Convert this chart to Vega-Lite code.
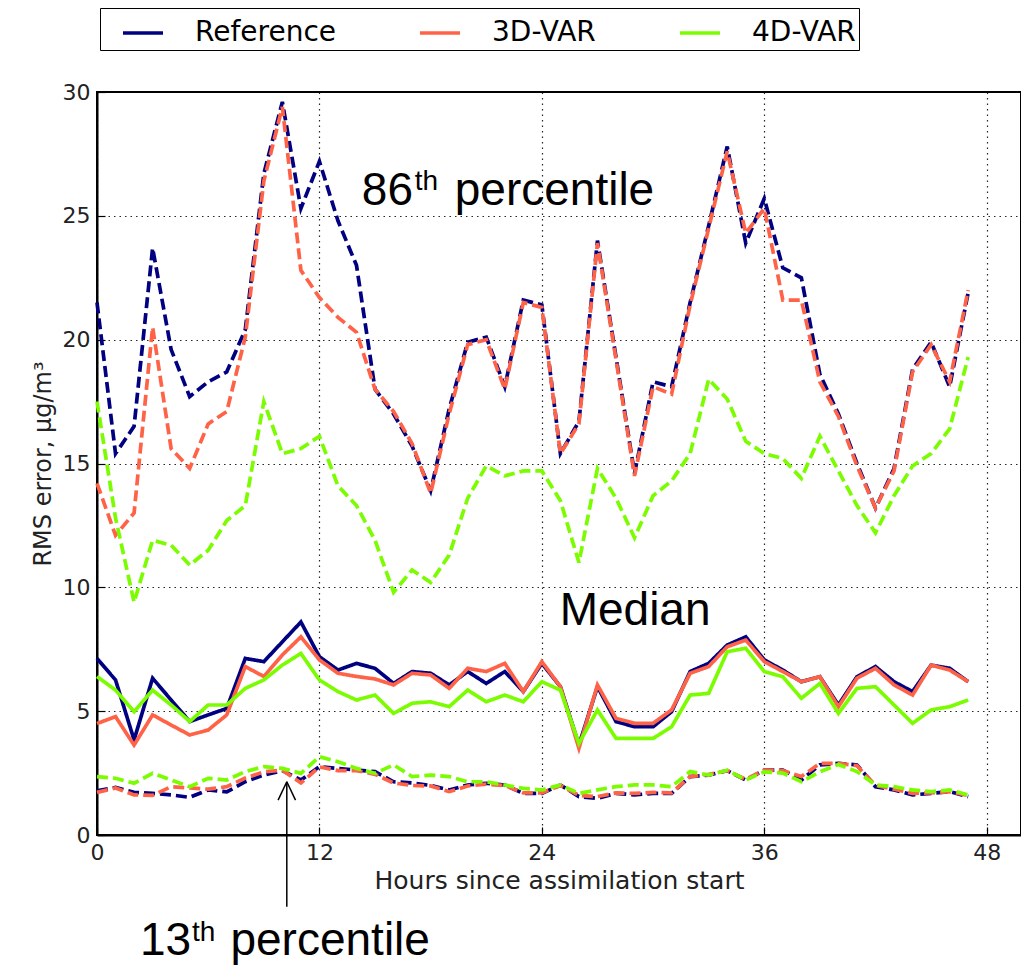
{
"$schema":"https://vega.github.io/schema/vega-lite/v6.json",
"width":924,"height":743,
"autosize":{"type":"none"},
"padding":{"left":97,"top":92,"right":0,"bottom":135},
"background":"white",
"config":{"view":{"stroke":"black","strokeWidth":2}},
"datasets":{
"lines":[
{"h":0,"s":"Reference","k":"86th","v":21.5},{"h":1,"s":"Reference","k":"86th","v":15.4},{"h":2,"s":"Reference","k":"86th","v":16.5},{"h":3,"s":"Reference","k":"86th","v":23.7},{"h":4,"s":"Reference","k":"86th","v":19.6},{"h":5,"s":"Reference","k":"86th","v":17.7},{"h":6,"s":"Reference","k":"86th","v":18.3},{"h":7,"s":"Reference","k":"86th","v":18.7},{"h":8,"s":"Reference","k":"86th","v":20.4},{"h":9,"s":"Reference","k":"86th","v":26.7},
{"h":10,"s":"Reference","k":"86th","v":29.6},{"h":11,"s":"Reference","k":"86th","v":25.3},{"h":12,"s":"Reference","k":"86th","v":27.2},{"h":13,"s":"Reference","k":"86th","v":24.8},{"h":14,"s":"Reference","k":"86th","v":23.0},{"h":15,"s":"Reference","k":"86th","v":18.0},{"h":16,"s":"Reference","k":"86th","v":17.0},{"h":17,"s":"Reference","k":"86th","v":15.7},{"h":18,"s":"Reference","k":"86th","v":13.9},{"h":19,"s":"Reference","k":"86th","v":17.2},
{"h":20,"s":"Reference","k":"86th","v":19.9},{"h":21,"s":"Reference","k":"86th","v":20.1},{"h":22,"s":"Reference","k":"86th","v":18.1},{"h":23,"s":"Reference","k":"86th","v":21.6},{"h":24,"s":"Reference","k":"86th","v":21.4},{"h":25,"s":"Reference","k":"86th","v":15.4},{"h":26,"s":"Reference","k":"86th","v":16.7},{"h":27,"s":"Reference","k":"86th","v":24.0},{"h":28,"s":"Reference","k":"86th","v":19.3},{"h":29,"s":"Reference","k":"86th","v":14.6},
{"h":30,"s":"Reference","k":"86th","v":18.3},{"h":31,"s":"Reference","k":"86th","v":18.1},{"h":32,"s":"Reference","k":"86th","v":21.5},{"h":33,"s":"Reference","k":"86th","v":24.6},{"h":34,"s":"Reference","k":"86th","v":27.8},{"h":35,"s":"Reference","k":"86th","v":23.9},{"h":36,"s":"Reference","k":"86th","v":25.7},{"h":37,"s":"Reference","k":"86th","v":22.9},{"h":38,"s":"Reference","k":"86th","v":22.5},{"h":39,"s":"Reference","k":"86th","v":18.6},
{"h":40,"s":"Reference","k":"86th","v":17.0},{"h":41,"s":"Reference","k":"86th","v":15.0},{"h":42,"s":"Reference","k":"86th","v":13.2},{"h":43,"s":"Reference","k":"86th","v":14.8},{"h":44,"s":"Reference","k":"86th","v":18.8},{"h":45,"s":"Reference","k":"86th","v":19.9},{"h":46,"s":"Reference","k":"86th","v":18.1},{"h":47,"s":"Reference","k":"86th","v":21.9},

{"h":0,"s":"3D-VAR","k":"86th","v":14.2},{"h":1,"s":"3D-VAR","k":"86th","v":12.1},{"h":2,"s":"3D-VAR","k":"86th","v":13.0},{"h":3,"s":"3D-VAR","k":"86th","v":20.5},{"h":4,"s":"3D-VAR","k":"86th","v":15.6},{"h":5,"s":"3D-VAR","k":"86th","v":14.8},{"h":6,"s":"3D-VAR","k":"86th","v":16.6},{"h":7,"s":"3D-VAR","k":"86th","v":17.1},{"h":8,"s":"3D-VAR","k":"86th","v":20.1},{"h":9,"s":"3D-VAR","k":"86th","v":26.4},
{"h":10,"s":"3D-VAR","k":"86th","v":29.4},{"h":11,"s":"3D-VAR","k":"86th","v":22.8},{"h":12,"s":"3D-VAR","k":"86th","v":21.7},{"h":13,"s":"3D-VAR","k":"86th","v":20.9},{"h":14,"s":"3D-VAR","k":"86th","v":20.3},{"h":15,"s":"3D-VAR","k":"86th","v":18.0},{"h":16,"s":"3D-VAR","k":"86th","v":17.1},{"h":17,"s":"3D-VAR","k":"86th","v":15.8},{"h":18,"s":"3D-VAR","k":"86th","v":13.8},{"h":19,"s":"3D-VAR","k":"86th","v":17.0},
{"h":20,"s":"3D-VAR","k":"86th","v":19.8},{"h":21,"s":"3D-VAR","k":"86th","v":20.0},{"h":22,"s":"3D-VAR","k":"86th","v":18.0},{"h":23,"s":"3D-VAR","k":"86th","v":21.5},{"h":24,"s":"3D-VAR","k":"86th","v":21.3},{"h":25,"s":"3D-VAR","k":"86th","v":15.4},{"h":26,"s":"3D-VAR","k":"86th","v":16.6},{"h":27,"s":"3D-VAR","k":"86th","v":23.9},{"h":28,"s":"3D-VAR","k":"86th","v":19.2},{"h":29,"s":"3D-VAR","k":"86th","v":14.5},
{"h":30,"s":"3D-VAR","k":"86th","v":18.1},{"h":31,"s":"3D-VAR","k":"86th","v":17.8},{"h":32,"s":"3D-VAR","k":"86th","v":21.4},{"h":33,"s":"3D-VAR","k":"86th","v":24.5},{"h":34,"s":"3D-VAR","k":"86th","v":27.6},{"h":35,"s":"3D-VAR","k":"86th","v":24.3},{"h":36,"s":"3D-VAR","k":"86th","v":25.3},{"h":37,"s":"3D-VAR","k":"86th","v":21.6},{"h":38,"s":"3D-VAR","k":"86th","v":21.6},{"h":39,"s":"3D-VAR","k":"86th","v":18.3},
{"h":40,"s":"3D-VAR","k":"86th","v":16.9},{"h":41,"s":"3D-VAR","k":"86th","v":14.9},{"h":42,"s":"3D-VAR","k":"86th","v":13.2},{"h":43,"s":"3D-VAR","k":"86th","v":14.7},{"h":44,"s":"3D-VAR","k":"86th","v":18.7},{"h":45,"s":"3D-VAR","k":"86th","v":19.8},{"h":46,"s":"3D-VAR","k":"86th","v":18.3},{"h":47,"s":"3D-VAR","k":"86th","v":22.0},

{"h":0,"s":"4D-VAR","k":"86th","v":17.5},{"h":1,"s":"4D-VAR","k":"86th","v":12.8},{"h":2,"s":"4D-VAR","k":"86th","v":9.4},{"h":3,"s":"4D-VAR","k":"86th","v":11.9},{"h":4,"s":"4D-VAR","k":"86th","v":11.7},{"h":5,"s":"4D-VAR","k":"86th","v":10.9},{"h":6,"s":"4D-VAR","k":"86th","v":11.5},{"h":7,"s":"4D-VAR","k":"86th","v":12.7},{"h":8,"s":"4D-VAR","k":"86th","v":13.3},{"h":9,"s":"4D-VAR","k":"86th","v":17.5},
{"h":10,"s":"4D-VAR","k":"86th","v":15.4},{"h":11,"s":"4D-VAR","k":"86th","v":15.6},{"h":12,"s":"4D-VAR","k":"86th","v":16.1},{"h":13,"s":"4D-VAR","k":"86th","v":14.1},{"h":14,"s":"4D-VAR","k":"86th","v":13.3},{"h":15,"s":"4D-VAR","k":"86th","v":11.9},{"h":16,"s":"4D-VAR","k":"86th","v":9.8},{"h":17,"s":"4D-VAR","k":"86th","v":10.7},{"h":18,"s":"4D-VAR","k":"86th","v":10.2},{"h":19,"s":"4D-VAR","k":"86th","v":11.3},
{"h":20,"s":"4D-VAR","k":"86th","v":13.6},{"h":21,"s":"4D-VAR","k":"86th","v":14.9},{"h":22,"s":"4D-VAR","k":"86th","v":14.5},{"h":23,"s":"4D-VAR","k":"86th","v":14.7},{"h":24,"s":"4D-VAR","k":"86th","v":14.7},{"h":25,"s":"4D-VAR","k":"86th","v":13.5},{"h":26,"s":"4D-VAR","k":"86th","v":11.0},{"h":27,"s":"4D-VAR","k":"86th","v":14.8},{"h":28,"s":"4D-VAR","k":"86th","v":13.6},{"h":29,"s":"4D-VAR","k":"86th","v":12.0},
{"h":30,"s":"4D-VAR","k":"86th","v":13.7},{"h":31,"s":"4D-VAR","k":"86th","v":14.3},{"h":32,"s":"4D-VAR","k":"86th","v":15.4},{"h":33,"s":"4D-VAR","k":"86th","v":18.4},{"h":34,"s":"4D-VAR","k":"86th","v":17.6},{"h":35,"s":"4D-VAR","k":"86th","v":15.9},{"h":36,"s":"4D-VAR","k":"86th","v":15.4},{"h":37,"s":"4D-VAR","k":"86th","v":15.2},{"h":38,"s":"4D-VAR","k":"86th","v":14.4},{"h":39,"s":"4D-VAR","k":"86th","v":16.1},
{"h":40,"s":"4D-VAR","k":"86th","v":14.7},{"h":41,"s":"4D-VAR","k":"86th","v":13.3},{"h":42,"s":"4D-VAR","k":"86th","v":12.2},{"h":43,"s":"4D-VAR","k":"86th","v":13.7},{"h":44,"s":"4D-VAR","k":"86th","v":14.9},{"h":45,"s":"4D-VAR","k":"86th","v":15.4},{"h":46,"s":"4D-VAR","k":"86th","v":16.4},{"h":47,"s":"4D-VAR","k":"86th","v":19.3},

{"h":0,"s":"Reference","k":"median","v":7.13},{"h":1,"s":"Reference","k":"median","v":6.26},{"h":2,"s":"Reference","k":"median","v":3.84},{"h":3,"s":"Reference","k":"median","v":6.33},{"h":4,"s":"Reference","k":"median","v":5.45},{"h":5,"s":"Reference","k":"median","v":4.58},{"h":6,"s":"Reference","k":"median","v":4.85},{"h":7,"s":"Reference","k":"median","v":5.11},{"h":8,"s":"Reference","k":"median","v":7.13},{"h":9,"s":"Reference","k":"median","v":7.0},
{"h":10,"s":"Reference","k":"median","v":7.8},{"h":11,"s":"Reference","k":"median","v":8.6},{"h":12,"s":"Reference","k":"median","v":7.2},{"h":13,"s":"Reference","k":"median","v":6.66},{"h":14,"s":"Reference","k":"median","v":6.93},{"h":15,"s":"Reference","k":"median","v":6.73},{"h":16,"s":"Reference","k":"median","v":6.12},{"h":17,"s":"Reference","k":"median","v":6.6},{"h":18,"s":"Reference","k":"median","v":6.53},{"h":19,"s":"Reference","k":"median","v":6.06},
{"h":20,"s":"Reference","k":"median","v":6.6},{"h":21,"s":"Reference","k":"median","v":6.12},{"h":22,"s":"Reference","k":"median","v":6.6},{"h":23,"s":"Reference","k":"median","v":5.79},{"h":24,"s":"Reference","k":"median","v":6.93},{"h":25,"s":"Reference","k":"median","v":5.99},{"h":26,"s":"Reference","k":"median","v":3.63},{"h":27,"s":"Reference","k":"median","v":5.99},{"h":28,"s":"Reference","k":"median","v":4.58},{"h":29,"s":"Reference","k":"median","v":4.37},
{"h":30,"s":"Reference","k":"median","v":4.37},{"h":31,"s":"Reference","k":"median","v":4.98},{"h":32,"s":"Reference","k":"median","v":6.6},{"h":33,"s":"Reference","k":"median","v":6.93},{"h":34,"s":"Reference","k":"median","v":7.67},{"h":35,"s":"Reference","k":"median","v":8.0},{"h":36,"s":"Reference","k":"median","v":7.07},{"h":37,"s":"Reference","k":"median","v":6.66},{"h":38,"s":"Reference","k":"median","v":6.19},{"h":39,"s":"Reference","k":"median","v":6.39},
{"h":40,"s":"Reference","k":"median","v":5.25},{"h":41,"s":"Reference","k":"median","v":6.39},{"h":42,"s":"Reference","k":"median","v":6.8},{"h":43,"s":"Reference","k":"median","v":6.19},{"h":44,"s":"Reference","k":"median","v":5.79},{"h":45,"s":"Reference","k":"median","v":6.86},{"h":46,"s":"Reference","k":"median","v":6.73},{"h":47,"s":"Reference","k":"median","v":6.19},

{"h":0,"s":"3D-VAR","k":"median","v":4.5},{"h":1,"s":"3D-VAR","k":"median","v":4.78},{"h":2,"s":"3D-VAR","k":"median","v":3.63},{"h":3,"s":"3D-VAR","k":"median","v":4.85},{"h":4,"s":"3D-VAR","k":"median","v":4.44},{"h":5,"s":"3D-VAR","k":"median","v":4.04},{"h":6,"s":"3D-VAR","k":"median","v":4.24},{"h":7,"s":"3D-VAR","k":"median","v":4.85},{"h":8,"s":"3D-VAR","k":"median","v":6.8},{"h":9,"s":"3D-VAR","k":"median","v":6.4},
{"h":10,"s":"3D-VAR","k":"median","v":7.27},{"h":11,"s":"3D-VAR","k":"median","v":8.0},{"h":12,"s":"3D-VAR","k":"median","v":7.07},{"h":13,"s":"3D-VAR","k":"median","v":6.53},{"h":14,"s":"3D-VAR","k":"median","v":6.4},{"h":15,"s":"3D-VAR","k":"median","v":6.3},{"h":16,"s":"3D-VAR","k":"median","v":6.06},{"h":17,"s":"3D-VAR","k":"median","v":6.53},{"h":18,"s":"3D-VAR","k":"median","v":6.46},{"h":19,"s":"3D-VAR","k":"median","v":5.92},
{"h":20,"s":"3D-VAR","k":"median","v":6.73},{"h":21,"s":"3D-VAR","k":"median","v":6.6},{"h":22,"s":"3D-VAR","k":"median","v":6.93},{"h":23,"s":"3D-VAR","k":"median","v":5.79},{"h":24,"s":"3D-VAR","k":"median","v":7.0},{"h":25,"s":"3D-VAR","k":"median","v":5.99},{"h":26,"s":"3D-VAR","k":"median","v":3.5},{"h":27,"s":"3D-VAR","k":"median","v":6.06},{"h":28,"s":"3D-VAR","k":"median","v":4.71},{"h":29,"s":"3D-VAR","k":"median","v":4.51},
{"h":30,"s":"3D-VAR","k":"median","v":4.51},{"h":31,"s":"3D-VAR","k":"median","v":5.05},{"h":32,"s":"3D-VAR","k":"median","v":6.53},{"h":33,"s":"3D-VAR","k":"median","v":6.8},{"h":34,"s":"3D-VAR","k":"median","v":7.6},{"h":35,"s":"3D-VAR","k":"median","v":7.87},{"h":36,"s":"3D-VAR","k":"median","v":7.0},{"h":37,"s":"3D-VAR","k":"median","v":6.6},{"h":38,"s":"3D-VAR","k":"median","v":6.19},{"h":39,"s":"3D-VAR","k":"median","v":6.39},
{"h":40,"s":"3D-VAR","k":"median","v":5.18},{"h":41,"s":"3D-VAR","k":"median","v":6.33},{"h":42,"s":"3D-VAR","k":"median","v":6.73},{"h":43,"s":"3D-VAR","k":"median","v":6.06},{"h":44,"s":"3D-VAR","k":"median","v":5.65},{"h":45,"s":"3D-VAR","k":"median","v":6.86},{"h":46,"s":"3D-VAR","k":"median","v":6.66},{"h":47,"s":"3D-VAR","k":"median","v":6.19},

{"h":0,"s":"4D-VAR","k":"median","v":6.4},{"h":1,"s":"4D-VAR","k":"median","v":5.85},{"h":2,"s":"4D-VAR","k":"median","v":4.98},{"h":3,"s":"4D-VAR","k":"median","v":5.85},{"h":4,"s":"4D-VAR","k":"median","v":5.25},{"h":5,"s":"4D-VAR","k":"median","v":4.58},{"h":6,"s":"4D-VAR","k":"median","v":5.25},{"h":7,"s":"4D-VAR","k":"median","v":5.25},{"h":8,"s":"4D-VAR","k":"median","v":5.92},{"h":9,"s":"4D-VAR","k":"median","v":6.26},
{"h":10,"s":"4D-VAR","k":"median","v":6.86},{"h":11,"s":"4D-VAR","k":"median","v":7.33},{"h":12,"s":"4D-VAR","k":"median","v":6.26},{"h":13,"s":"4D-VAR","k":"median","v":5.79},{"h":14,"s":"4D-VAR","k":"median","v":5.45},{"h":15,"s":"4D-VAR","k":"median","v":5.65},{"h":16,"s":"4D-VAR","k":"median","v":4.91},{"h":17,"s":"4D-VAR","k":"median","v":5.32},{"h":18,"s":"4D-VAR","k":"median","v":5.38},{"h":19,"s":"4D-VAR","k":"median","v":5.18},
{"h":20,"s":"4D-VAR","k":"median","v":5.85},{"h":21,"s":"4D-VAR","k":"median","v":5.38},{"h":22,"s":"4D-VAR","k":"median","v":5.65},{"h":23,"s":"4D-VAR","k":"median","v":5.38},{"h":24,"s":"4D-VAR","k":"median","v":6.19},{"h":25,"s":"4D-VAR","k":"median","v":5.85},{"h":26,"s":"4D-VAR","k":"median","v":3.7},{"h":27,"s":"4D-VAR","k":"median","v":5.05},{"h":28,"s":"4D-VAR","k":"median","v":3.9},{"h":29,"s":"4D-VAR","k":"median","v":3.9},
{"h":30,"s":"4D-VAR","k":"median","v":3.9},{"h":31,"s":"4D-VAR","k":"median","v":4.37},{"h":32,"s":"4D-VAR","k":"median","v":5.65},{"h":33,"s":"4D-VAR","k":"median","v":5.72},{"h":34,"s":"4D-VAR","k":"median","v":7.4},{"h":35,"s":"4D-VAR","k":"median","v":7.54},{"h":36,"s":"4D-VAR","k":"median","v":6.6},{"h":37,"s":"4D-VAR","k":"median","v":6.39},{"h":38,"s":"4D-VAR","k":"median","v":5.52},{"h":39,"s":"4D-VAR","k":"median","v":6.12},
{"h":40,"s":"4D-VAR","k":"median","v":4.91},{"h":41,"s":"4D-VAR","k":"median","v":5.92},{"h":42,"s":"4D-VAR","k":"median","v":5.99},{"h":43,"s":"4D-VAR","k":"median","v":5.25},{"h":44,"s":"4D-VAR","k":"median","v":4.51},{"h":45,"s":"4D-VAR","k":"median","v":5.05},{"h":46,"s":"4D-VAR","k":"median","v":5.18},{"h":47,"s":"4D-VAR","k":"median","v":5.45},

{"h":0,"s":"Reference","k":"13th","v":1.78},{"h":1,"s":"Reference","k":"13th","v":1.92},{"h":2,"s":"Reference","k":"13th","v":1.72},{"h":3,"s":"Reference","k":"13th","v":1.68},{"h":4,"s":"Reference","k":"13th","v":1.62},{"h":5,"s":"Reference","k":"13th","v":1.52},{"h":6,"s":"Reference","k":"13th","v":1.82},{"h":7,"s":"Reference","k":"13th","v":1.74},{"h":8,"s":"Reference","k":"13th","v":2.15},{"h":9,"s":"Reference","k":"13th","v":2.42},
{"h":10,"s":"Reference","k":"13th","v":2.6},{"h":11,"s":"Reference","k":"13th","v":2.22},{"h":12,"s":"Reference","k":"13th","v":2.76},{"h":13,"s":"Reference","k":"13th","v":2.69},{"h":14,"s":"Reference","k":"13th","v":2.62},{"h":15,"s":"Reference","k":"13th","v":2.56},{"h":16,"s":"Reference","k":"13th","v":2.15},{"h":17,"s":"Reference","k":"13th","v":2.1},{"h":18,"s":"Reference","k":"13th","v":2.0},{"h":19,"s":"Reference","k":"13th","v":1.82},
{"h":20,"s":"Reference","k":"13th","v":2.02},{"h":21,"s":"Reference","k":"13th","v":2.09},{"h":22,"s":"Reference","k":"13th","v":2.02},{"h":23,"s":"Reference","k":"13th","v":1.68},{"h":24,"s":"Reference","k":"13th","v":1.68},{"h":25,"s":"Reference","k":"13th","v":2.02},{"h":26,"s":"Reference","k":"13th","v":1.55},{"h":27,"s":"Reference","k":"13th","v":1.48},{"h":28,"s":"Reference","k":"13th","v":1.68},{"h":29,"s":"Reference","k":"13th","v":1.62},
{"h":30,"s":"Reference","k":"13th","v":1.68},{"h":31,"s":"Reference","k":"13th","v":1.68},{"h":32,"s":"Reference","k":"13th","v":2.36},{"h":33,"s":"Reference","k":"13th","v":2.42},{"h":34,"s":"Reference","k":"13th","v":2.6},{"h":35,"s":"Reference","k":"13th","v":2.22},{"h":36,"s":"Reference","k":"13th","v":2.62},{"h":37,"s":"Reference","k":"13th","v":2.62},{"h":38,"s":"Reference","k":"13th","v":2.22},{"h":39,"s":"Reference","k":"13th","v":2.83},
{"h":40,"s":"Reference","k":"13th","v":2.89},{"h":41,"s":"Reference","k":"13th","v":2.83},{"h":42,"s":"Reference","k":"13th","v":1.95},{"h":43,"s":"Reference","k":"13th","v":1.82},{"h":44,"s":"Reference","k":"13th","v":1.62},{"h":45,"s":"Reference","k":"13th","v":1.68},{"h":46,"s":"Reference","k":"13th","v":1.75},{"h":47,"s":"Reference","k":"13th","v":1.55},

{"h":0,"s":"3D-VAR","k":"13th","v":1.72},{"h":1,"s":"3D-VAR","k":"13th","v":1.9},{"h":2,"s":"3D-VAR","k":"13th","v":1.62},{"h":3,"s":"3D-VAR","k":"13th","v":1.6},{"h":4,"s":"3D-VAR","k":"13th","v":1.95},{"h":5,"s":"3D-VAR","k":"13th","v":1.9},{"h":6,"s":"3D-VAR","k":"13th","v":1.85},{"h":7,"s":"3D-VAR","k":"13th","v":1.95},{"h":8,"s":"3D-VAR","k":"13th","v":2.3},{"h":9,"s":"3D-VAR","k":"13th","v":2.55},
{"h":10,"s":"3D-VAR","k":"13th","v":2.62},{"h":11,"s":"3D-VAR","k":"13th","v":2.1},{"h":12,"s":"3D-VAR","k":"13th","v":2.75},{"h":13,"s":"3D-VAR","k":"13th","v":2.6},{"h":14,"s":"3D-VAR","k":"13th","v":2.6},{"h":15,"s":"3D-VAR","k":"13th","v":2.45},{"h":16,"s":"3D-VAR","k":"13th","v":2.1},{"h":17,"s":"3D-VAR","k":"13th","v":2.0},{"h":18,"s":"3D-VAR","k":"13th","v":1.98},{"h":19,"s":"3D-VAR","k":"13th","v":1.75},
{"h":20,"s":"3D-VAR","k":"13th","v":1.98},{"h":21,"s":"3D-VAR","k":"13th","v":2.05},{"h":22,"s":"3D-VAR","k":"13th","v":2.0},{"h":23,"s":"3D-VAR","k":"13th","v":1.7},{"h":24,"s":"3D-VAR","k":"13th","v":1.7},{"h":25,"s":"3D-VAR","k":"13th","v":2.0},{"h":26,"s":"3D-VAR","k":"13th","v":1.6},{"h":27,"s":"3D-VAR","k":"13th","v":1.55},{"h":28,"s":"3D-VAR","k":"13th","v":1.7},{"h":29,"s":"3D-VAR","k":"13th","v":1.68},
{"h":30,"s":"3D-VAR","k":"13th","v":1.72},{"h":31,"s":"3D-VAR","k":"13th","v":1.7},{"h":32,"s":"3D-VAR","k":"13th","v":2.36},{"h":33,"s":"3D-VAR","k":"13th","v":2.45},{"h":34,"s":"3D-VAR","k":"13th","v":2.6},{"h":35,"s":"3D-VAR","k":"13th","v":2.25},{"h":36,"s":"3D-VAR","k":"13th","v":2.62},{"h":37,"s":"3D-VAR","k":"13th","v":2.6},{"h":38,"s":"3D-VAR","k":"13th","v":2.36},{"h":39,"s":"3D-VAR","k":"13th","v":2.89},
{"h":40,"s":"3D-VAR","k":"13th","v":2.89},{"h":41,"s":"3D-VAR","k":"13th","v":2.8},{"h":42,"s":"3D-VAR","k":"13th","v":2.0},{"h":43,"s":"3D-VAR","k":"13th","v":1.85},{"h":44,"s":"3D-VAR","k":"13th","v":1.68},{"h":45,"s":"3D-VAR","k":"13th","v":1.7},{"h":46,"s":"3D-VAR","k":"13th","v":1.75},{"h":47,"s":"3D-VAR","k":"13th","v":1.6},

{"h":0,"s":"4D-VAR","k":"13th","v":2.36},{"h":1,"s":"4D-VAR","k":"13th","v":2.29},{"h":2,"s":"4D-VAR","k":"13th","v":2.09},{"h":3,"s":"4D-VAR","k":"13th","v":2.49},{"h":4,"s":"4D-VAR","k":"13th","v":2.22},{"h":5,"s":"4D-VAR","k":"13th","v":1.95},{"h":6,"s":"4D-VAR","k":"13th","v":2.29},{"h":7,"s":"4D-VAR","k":"13th","v":2.22},{"h":8,"s":"4D-VAR","k":"13th","v":2.56},{"h":9,"s":"4D-VAR","k":"13th","v":2.76},
{"h":10,"s":"4D-VAR","k":"13th","v":2.69},{"h":11,"s":"4D-VAR","k":"13th","v":2.49},{"h":12,"s":"4D-VAR","k":"13th","v":3.16},{"h":13,"s":"4D-VAR","k":"13th","v":2.96},{"h":14,"s":"4D-VAR","k":"13th","v":2.69},{"h":15,"s":"4D-VAR","k":"13th","v":2.49},{"h":16,"s":"4D-VAR","k":"13th","v":2.83},{"h":17,"s":"4D-VAR","k":"13th","v":2.36},{"h":18,"s":"4D-VAR","k":"13th","v":2.42},{"h":19,"s":"4D-VAR","k":"13th","v":2.36},
{"h":20,"s":"4D-VAR","k":"13th","v":2.15},{"h":21,"s":"4D-VAR","k":"13th","v":2.15},{"h":22,"s":"4D-VAR","k":"13th","v":2.02},{"h":23,"s":"4D-VAR","k":"13th","v":1.88},{"h":24,"s":"4D-VAR","k":"13th","v":1.82},{"h":25,"s":"4D-VAR","k":"13th","v":2.02},{"h":26,"s":"4D-VAR","k":"13th","v":1.68},{"h":27,"s":"4D-VAR","k":"13th","v":1.82},{"h":28,"s":"4D-VAR","k":"13th","v":1.95},{"h":29,"s":"4D-VAR","k":"13th","v":2.02},
{"h":30,"s":"4D-VAR","k":"13th","v":2.02},{"h":31,"s":"4D-VAR","k":"13th","v":1.95},{"h":32,"s":"4D-VAR","k":"13th","v":2.56},{"h":33,"s":"4D-VAR","k":"13th","v":2.42},{"h":34,"s":"4D-VAR","k":"13th","v":2.62},{"h":35,"s":"4D-VAR","k":"13th","v":2.22},{"h":36,"s":"4D-VAR","k":"13th","v":2.55},{"h":37,"s":"4D-VAR","k":"13th","v":2.5},{"h":38,"s":"4D-VAR","k":"13th","v":2.15},{"h":39,"s":"4D-VAR","k":"13th","v":2.55},
{"h":40,"s":"4D-VAR","k":"13th","v":2.85},{"h":41,"s":"4D-VAR","k":"13th","v":2.56},{"h":42,"s":"4D-VAR","k":"13th","v":2.02},{"h":43,"s":"4D-VAR","k":"13th","v":1.95},{"h":44,"s":"4D-VAR","k":"13th","v":1.82},{"h":45,"s":"4D-VAR","k":"13th","v":1.75},{"h":46,"s":"4D-VAR","k":"13th","v":1.82},{"h":47,"s":"4D-VAR","k":"13th","v":1.62}
],
"labels":[
{"t":"86","h":14.29,"v":25.43},{"t":"percentile","h":19.3,"v":25.43},{"t":"Median","h":24.96,"v":8.48},{"t":"13","h":2.32,"v":-4.84},{"t":"percentile","h":7.2,"v":-4.84}
],
"sups":[
{"t":"th","h":17.14,"v":26.04},{"t":"th","h":5.12,"v":-4.3}
],
"arrow":[
{"h":10.24,"v":-2.9,"h2":10.24,"v2":2.15},{"h":9.77,"v":1.41,"h2":10.24,"v2":2.15},{"h":10.71,"v":1.41,"h2":10.24,"v2":2.15}
]
},
"layer":[
{"data":{"name":"lines"},
 "mark":{"type":"line","strokeWidth":3.7},
 "encoding":{
  "x":{"field":"h","type":"quantitative","scale":{"domain":[0,49.85],"nice":false,"zero":false},
       "axis":{"values":[0,12,24,36,48],"title":"Hours since assimilation start","grid":true,"gridDash":[1.5,4],"gridColor":"#000","gridOpacity":0.85,"gridWidth":1.2,"labelFlush":false,"labelFont":"DejaVu Sans","labelFontSize":22,"labelColor":"#222","labelPadding":15,"tickSize":-8,"tickColor":"black","tickWidth":1.2,"domainColor":"black","domainWidth":2,"titleFont":"DejaVu Sans","titleFontSize":25,"titleFontWeight":"normal","titleColor":"#222","titlePadding":5}},
  "y":{"field":"v","type":"quantitative","scale":{"domain":[0,30],"nice":false},
       "axis":{"values":[0,5,10,15,20,25,30],"title":"RMS error, μg/m³","grid":true,"gridDash":[1.5,4],"gridColor":"#000","gridOpacity":0.85,"gridWidth":1.2,"labelFlush":false,"labelFont":"DejaVu Sans","labelFontSize":22,"labelColor":"#222","labelPadding":15,"tickSize":-8,"tickColor":"black","tickWidth":1.2,"domainColor":"black","domainWidth":2,"titleFont":"DejaVu Sans","titleFontSize":24,"titleFontWeight":"normal","titleColor":"#222","titlePadding":7}},
  "color":{"field":"s","type":"nominal","scale":{"domain":["Reference","3D-VAR","4D-VAR"],"range":["#000080","#FF6347","#7CFC00"]},
       "legend":{"orient":"none","legendX":3,"legendY":-84,"direction":"horizontal","title":null,"labelFont":"DejaVu Sans","labelFontSize":28,"labelColor":"black","symbolType":"stroke","symbolSize":1600,"symbolStrokeWidth":3.7,"strokeColor":"black","padding":3,"symbolOffset":18,"labelOffset":30,"columnPadding":64,"fillColor":"white"}},
  "strokeDash":{"field":"k","type":"nominal","scale":{"domain":["86th","median","13th"],"range":[[11,5],[1,0],[11,5]]},"legend":null}
 }},
{"data":{"name":"arrow"},
 "mark":{"type":"rule","color":"black","strokeWidth":1.5},
 "encoding":{"x":{"field":"h","type":"quantitative"},"y":{"field":"v","type":"quantitative"},"x2":{"field":"h2"},"y2":{"field":"v2"}}},
{"data":{"name":"labels"},
 "mark":{"type":"text","font":"Liberation Sans","fontSize":46,"align":"left","baseline":"alphabetic","color":"black"},
 "encoding":{"x":{"field":"h","type":"quantitative"},"y":{"field":"v","type":"quantitative"},"text":{"field":"t"}}},
{"data":{"name":"sups"},
 "mark":{"type":"text","font":"Liberation Sans","fontSize":28,"align":"left","baseline":"alphabetic","color":"black"},
 "encoding":{"x":{"field":"h","type":"quantitative"},"y":{"field":"v","type":"quantitative"},"text":{"field":"t"}}}
]
}
